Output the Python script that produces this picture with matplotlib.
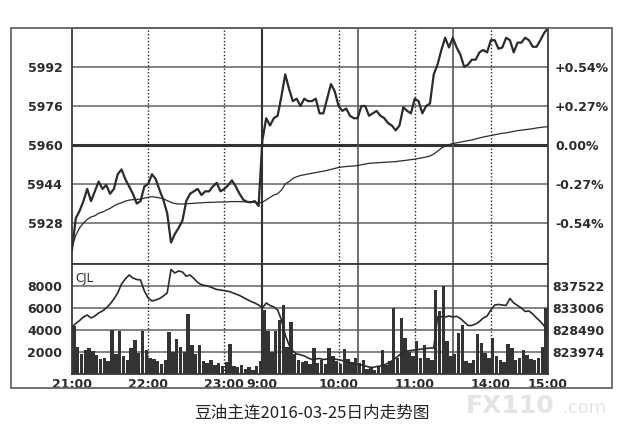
import matplotlib.pyplot as plt
import numpy as np
from matplotlib.patches import Rectangle

# minutes on the trading clock: night 21:00-23:30 (0-150), then 9:00-10:15, 10:30-11:30, 13:30-15:00
minutes = np.arange(0, 376, 3)
bar_minutes = np.arange(0, 375, 3)

price = [
    5917, 5930, 5933, 5937, 5942, 5937, 5941, 5945, 5942, 5943.6,
    5940, 5942, 5948, 5950, 5946, 5943, 5940, 5936, 5937, 5943,
    5944, 5948, 5946, 5941.5, 5937.5, 5932, 5920, 5923.5, 5926, 5929,
    5937, 5940, 5941, 5942, 5939.5, 5941, 5941, 5943, 5944.5, 5941,
    5942, 5943.5, 5945.5, 5943, 5940, 5937.5, 5936.7, 5936.5, 5937, 5935,
    5962, 5971, 5968, 5971, 5972, 5980, 5989, 5983, 5978, 5979,
    5976, 5979, 5978, 5978, 5979, 5973, 5973, 5979, 5985, 5982,
    5976, 5974, 5975, 5972, 5971, 5971, 5976, 5976, 5972, 5973,
    5974, 5972, 5971, 5969, 5968, 5966, 5968, 5975.5, 5974, 5973,
    5979, 5978, 5973, 5976, 5977, 5989, 5993, 5999, 6004, 6000,
    6004, 6000, 5997, 5992, 5993, 5995, 5995, 5998, 5999, 5998,
    6003, 6003, 5999.5, 6000, 6004, 6003, 5998, 6002, 6002, 6004,
    6003, 6000.3, 6000.3, 6003, 6006, 6008,
]

avg_price = [
    5918, 5923, 5926, 5928, 5929.5, 5930.5, 5931, 5932, 5932.5, 5933.3,
    5934, 5935, 5935.8, 5936.3, 5937, 5937.4, 5937.6, 5937.7, 5937.8, 5938.2,
    5938.6, 5938.8, 5938.6, 5938.3, 5938, 5937.2, 5936.5, 5936, 5935.8, 5935.8,
    5935.9, 5936, 5936.1, 5936.2, 5936.3, 5936.4, 5936.5, 5936.5, 5936.6, 5936.6,
    5936.7, 5936.7, 5936.8, 5936.8, 5936.8, 5936.7, 5936.7, 5936.6, 5936.5, 5936.3,
    5936.5, 5937.5, 5938.5, 5939.5, 5940, 5941.5, 5944, 5945, 5946.3, 5947,
    5947.5, 5947.8, 5948.1, 5948.4, 5948.7, 5949, 5949.3, 5949.6, 5950, 5950.4,
    5950.8, 5951, 5951.2, 5951.3, 5951.4, 5951.6, 5951.9, 5952.2, 5952.5, 5952.6,
    5952.7, 5952.8, 5952.9, 5953, 5953.1, 5953.2, 5953.4, 5953.6, 5953.8, 5954,
    5954.2, 5954.5, 5954.8, 5955.1, 5955.5, 5956.3, 5957.5, 5958.7, 5959.6, 5960.2,
    5960.6, 5960.9, 5961.2, 5961.5, 5961.8, 5962.1, 5962.5, 5962.9, 5963.3, 5963.6,
    5963.9, 5964.2, 5964.5, 5964.8, 5965, 5965.3, 5965.6, 5965.9, 5966.1, 5966.3,
    5966.5, 5966.7, 5967, 5967.2, 5967.4, 5967.5,
]

volume = [
    4400, 2500, 1800, 2200, 2400, 2100, 1700, 1400, 1500, 1200,
    4000, 1800, 3900, 1600, 1300, 2400, 3100, 1900, 3900, 2200,
    1500, 1400, 1200, 900, 1300, 3800, 2000, 3200, 2500, 2000,
    5500, 2600, 1800, 2600, 1200, 1000, 1300, 800, 1000, 700,
    1100, 2700, 700, 600, 800, 500, 600, 400, 700, 1200,
    5800, 3900, 2000, 3900, 4900, 6300, 2500, 4700, 1800, 1300,
    1100, 1200, 900, 2400, 1000, 1300, 900, 2400, 1600, 1200,
    900, 2300, 1400, 1100, 1500, 1000, 1300, 500, 600, 400,
    700, 2200, 800, 1200, 6000, 1500, 5100, 3300, 2000, 1600,
    3000, 1500, 2600, 1500, 1300, 7600, 5700, 8000, 3000, 1600,
    1800, 3700, 4500, 1200, 1000, 1300, 3600, 2800, 1900, 1500,
    3300, 1600, 1300, 1100, 2700, 2400, 1300, 1500, 2200, 1700,
    1400, 1300, 1500, 2500, 6000,
]

open_interest = [
    829107, 829825, 830442, 831160, 831570, 830955, 831366, 831982, 832393, 833008,
    833830, 834856, 836088, 837936, 838962, 839783, 839167, 838859, 838756, 836498,
    835061, 834445, 834650, 834958, 835471, 836088, 840912, 840194, 840605, 840399,
    839516, 839783, 839064, 838243, 837791, 837627, 837422, 837114, 836806, 836703,
    836560, 836436, 836190, 835882, 835574, 835164, 834753, 834342, 834034, 833624,
    833008, 834034, 833521, 833213, 832597, 830544, 827465, 825412, 824180, 823564,
    823420, 823153, 822743, 822435, 822537, 822640, 822435, 822537, 822743, 822537,
    822394, 822230, 822024, 821819, 821614, 821408, 821306, 821100, 820895, 820792,
    820998, 821100, 821306, 821716, 822127, 822743, 823359, 823975, 824180, 824283,
    824385, 824488, 824591, 824693, 824796, 824796, 831160, 831222, 831160, 831366,
    831160, 831304, 830852, 830134, 829415, 829415, 829723, 830236, 830955, 831366,
    832597, 833624, 833727, 833624, 833521, 834958, 834034, 833521, 833008, 832290,
    832393, 831776, 830955, 830236, 829312, 828286,
]

price_ticks = [5928, 5944, 5960, 5976, 5992]
pct_labels = ["-0.54%", "-0.27%", "0.00%", "+0.27%", "+0.54%"]
vol_ticks = [2000, 4000, 6000, 8000]
oi_ticks = [823974, 828490, 833006, 837522]
time_ticks = [0, 60, 120, 150, 210, 270, 330, 375]
time_labels = ["21:00", "22:00", "23:00", "9:00", "10:00", "11:00", "14:00", "15:00"]
hour_lines = [60, 120, 210, 270, 330]
session_lines = [150, 225, 300]

W, H = 642, 444
ink = "#2b2b2b"
grid = "#6e6e6e"

fig = plt.figure(figsize=(W / 100, H / 100), dpi=100)
ax = fig.add_axes([72 / W, 1 - 264 / H, 476 / W, 236 / H])
axv = fig.add_axes([72 / W, 1 - 374 / H, 476 / W, 110 / H], sharex=ax)

# outer frame round the whole chart
fig.patches.append(Rectangle((11 / W, 1 - 388 / H), 601 / W, 360 / H, transform=fig.transFigure,
                             fill=False, ec="#666666", lw=1.3))

tick_font = dict(fontsize=9, fontweight="bold", color=ink)

# price panel
ax.set_xlim(0, 375)
ax.set_ylim(5911.2, 6008.0)
for p in price_ticks:
    if p == 5960:
        ax.axhline(p, color="#333333", lw=2.2, zorder=1)
    else:
        ax.axhline(p, color=grid, lw=1.2, zorder=1)
ax.plot(minutes, avg_price, color=ink, lw=0.9, zorder=3)
ax.plot(minutes, price, color=ink, lw=1.6, zorder=4)
ax.set_yticks(price_ticks)
ax.set_yticklabels([str(p) for p in price_ticks], **tick_font)
ax.tick_params(axis="y", length=0, pad=7)
ax.tick_params(axis="x", length=0, labelbottom=False)

ax_pct = ax.twinx()
ax_pct.set_ylim(ax.get_ylim())
ax_pct.set_yticks(price_ticks)
ax_pct.set_yticklabels(pct_labels, **tick_font)
ax_pct.tick_params(axis="y", length=0, pad=5)

# volume panel
axv.set_ylim(0, 10000)
for v in vol_ticks:
    axv.axhline(v, color=grid, lw=1.2, zorder=1)
axv.bar(bar_minutes + 1.5, volume, width=2.7, color="#333333", zorder=2)
axv.set_yticks(vol_ticks)
axv.set_yticklabels([str(v) for v in vol_ticks], **tick_font)
axv.tick_params(axis="y", length=0, pad=7)
axv.set_xticks(time_ticks)
axv.set_xticklabels(time_labels, **tick_font)
axv.tick_params(axis="x", length=0, pad=3)
axv.text(0.008, 0.93, "CJL", transform=axv.transAxes, fontsize=8.5, color=ink, va="top")

ax_oi = axv.twinx()
ax_oi.set_ylim(819458, 842038)
ax_oi.plot(minutes, open_interest, color=ink, lw=1.2, zorder=3)
ax_oi.set_yticks(oi_ticks)
ax_oi.set_yticklabels([str(v) for v in oi_ticks], **tick_font)
ax_oi.tick_params(axis="y", length=0, pad=3)

# vertical time lines through both panels
for a in (ax, axv):
    for m in hour_lines:
        a.axvline(m, color="#222222", lw=1.0, ls=(0, (1, 1.5)), zorder=1)
    for m in session_lines:
        a.axvline(m, color="#333333" if m == 150 else "#555555", lw=1.5 if m == 150 else 1.2, zorder=1)
    for side in a.spines.values():
        side.set_color("#3a3a3a")
        side.set_linewidth(1.3)
for a in (ax_pct, ax_oi):
    for side in a.spines.values():
        side.set_visible(False)

fig.text(311.7 / W, 1 - 413 / H, "豆油主连2016-03-25日内走势图", fontsize=12,
         family=["Noto Sans CJK SC", "DejaVu Sans"], color="#222222", ha="center", va="center")

# faint watermark in the corner
fig.text(466 / W, 1 - 406 / H, "FX110", fontsize=18, fontweight="bold", color="#e4e4e4",
         ha="left", va="center")
fig.text(562 / W, 1 - 408 / H, ".com", fontsize=13, color="#e4e4e4", ha="left", va="center")

fig.savefig("out.png", dpi=100)
